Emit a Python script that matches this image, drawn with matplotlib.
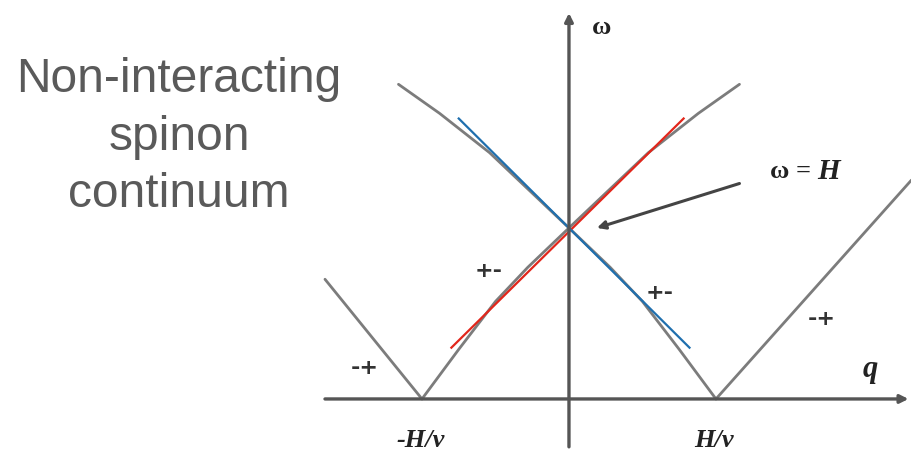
import matplotlib.pyplot as plt

# q in units of H/v, omega in units of H
# "+-" branch falling through omega = H at q = 0
q_pm_down = [-1.16, -0.88, -0.54, -0.27, 0.0, 0.28, 0.50, 0.75, 1.0]
w_pm_down = [1.84, 1.67, 1.44, 1.22, 1.0, 0.77, 0.57, 0.29, 0.0]

# "+-" branch rising through omega = H
q_pm_up = [-1.0, -0.75, -0.50, -0.28, 0.0, 0.27, 0.54, 0.88, 1.16]
w_pm_up = [0.0, 0.29, 0.57, 0.77, 1.0, 1.22, 1.44, 1.67, 1.84]

# "-+" outer branches
q_mp_left = [-1.66, -1.0]
w_mp_left = [0.70, 0.0]
q_mp_right = [1.0, 2.33]
w_mp_right = [0.0, 1.28]

# straight lines through the crossing point
q_red = [-0.80, 0.78]
w_red = [0.30, 1.64]
q_blue = [-0.75, 0.82]
w_blue = [1.64, 0.30]

# labels on the q axis
q_ticks = [-1.0, 1.0]
q_tick_labels = ["-H/v", "H/v"]

GRAY = "#7c7c7c"
AXIS = "#555555"

fig = plt.figure(figsize=(9.11, 4.53), dpi=100)
ax = fig.add_axes([0, 0, 1, 1])
ax.set_xlim(-3.871, 2.327)
ax.set_ylim(-0.316, 2.333)
ax.axis("off")

# axes with arrows
ax.annotate("", xy=(2.31, 0), xytext=(-1.66, 0),
            arrowprops=dict(arrowstyle="-|>", color=AXIS, lw=2.4,
                            mutation_scale=12, shrinkA=0, shrinkB=0))
ax.annotate("", xy=(0, 2.257), xytext=(0, -0.28),
            arrowprops=dict(arrowstyle="-|>", color=AXIS, lw=2.4,
                            mutation_scale=12, shrinkA=0, shrinkB=0))

# spinon continuum boundaries
for qs, ws in [(q_pm_down, w_pm_down), (q_pm_up, w_pm_up),
               (q_mp_left, w_mp_left), (q_mp_right, w_mp_right)]:
    ax.plot(qs, ws, color=GRAY, lw=2.0, solid_capstyle="round",
            solid_joinstyle="round")

ax.plot(q_red, w_red, color="#e2261b", lw=1.6)
ax.plot(q_blue, w_blue, color="#1f6fae", lw=1.6)

# branch labels
lbl = dict(fontsize=16, fontweight="bold", color="#333333",
           ha="center", va="center", family="DejaVu Sans")
ax.text(-0.55, 0.75, "+-", **lbl)
ax.text(0.62, 0.62, "+-", **lbl)
ax.text(-1.39, 0.18, "-+", **lbl)
ax.text(1.72, 0.47, "-+", **lbl)

serif = dict(family="Liberation Serif", color="#222222", fontweight="bold")
ax.text(0.22, 2.175, "ω", fontsize=19, ha="center", va="center", **serif)
ax.text(2.05, 0.17, "q", fontsize=22, style="italic", ha="center", va="center", **serif)
for qt, lab in zip(q_ticks, q_tick_labels):
    ax.text(qt - 0.01, -0.245, lab, fontsize=19, style="italic",
            ha="center", va="center", **serif)

# omega = H pointer
ax.annotate("", xy=(0.19, 1.0), xytext=(1.16, 1.26),
            arrowprops=dict(arrowstyle="-|>", color="#444444", lw=2.2,
                            mutation_scale=12, shrinkA=0, shrinkB=0))
ax.text(1.69, 1.33, "ω = ", fontsize=19, ha="right", va="center", **serif)
ax.text(1.69, 1.33, "H", fontsize=21, style="italic", ha="left", va="center", **serif)

fig.text(179 / 911, 1 - 137 / 453, "Non-interacting\nspinon\ncontinuum",
         fontsize=34.5, color="#5a5a5a", ha="center", va="center",
         linespacing=1.36, family="Liberation Sans")

fig.savefig("out.png", dpi=100)
